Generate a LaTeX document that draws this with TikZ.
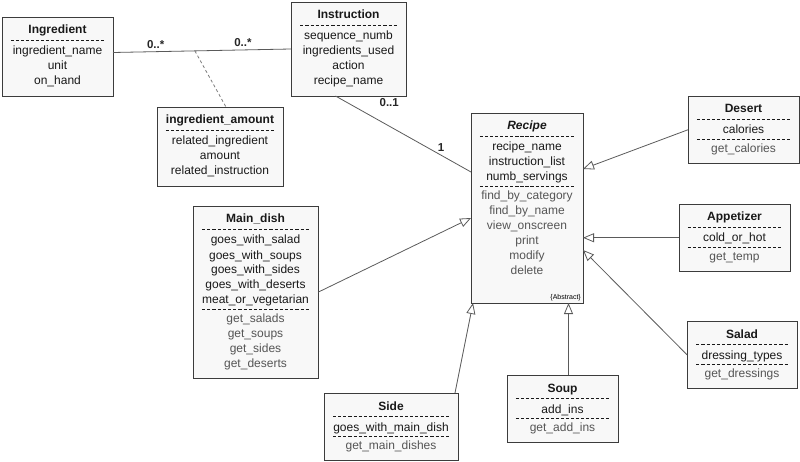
\documentclass[tikz,border=0pt]{standalone}
\usepackage{fontspec}
\setmainfont{Liberation Sans}
\usepackage{tikz}
\usetikzlibrary{arrows.meta}
\usepackage{xcolor}
\definecolor{boxline}{HTML}{3C3C3C}
\definecolor{boxfill}{HTML}{F8F8F8}
\definecolor{wire}{HTML}{5A5A5A}
\definecolor{optext}{HTML}{555555}

% dashed rule across a class box, and the two kinds of gaps round it
\newcommand{\dashrule}{\hbox to\hsize{\xleaders\hbox to 5pt{\hss\vrule width 3.2pt height 0.7pt\hss}\hfill}}
\newcommand{\titlesep}{\par\vspace{-8pt}\dashrule\par\vspace{-1pt}}
\newcommand{\opsep}{\par\vspace{-9pt}\dashrule\par\vspace{-2.5pt}\color{optext}}

\begin{document}
\begin{tikzpicture}[
    x=1pt, y=-1pt,
    cls/.style={draw=boxline, fill=boxfill, line width=0.8pt, anchor=north west,
        align=center, text width=#1, inner xsep=8pt, inner ysep=6.5pt, outer sep=0pt,
        font=\fontsize{12}{15}\selectfont, text=black!90,
        execute at begin node={\parindent=0pt\strut}, execute at end node=\strut},
    assoc/.style={draw=wire, line width=0.8pt},
    inherit/.style={assoc, -{Triangle[open, length=11pt, width=9pt]}},
    link/.style={draw=wire!80, line width=0.8pt, dash pattern=on 3pt off 2.5pt},
    mult/.style={font=\fontsize{11.5}{13}\selectfont\bfseries, text=black!85, inner sep=3pt}
]
\useasboundingbox (0,0) rectangle (800,462);

% classes
\node[cls=95pt] (ingr) at (2,17) {\textbf{Ingredient}\titlesep ingredient\_name\\ unit\\ on\_hand};
\node[cls=99pt] (instr) at (291,2) {\textbf{Instruction}\titlesep sequence\_numb\\ ingredients\_used\\ action\\ recipe\_name};
\node[cls=110pt] (amt) at (157,107) {\textbf{ingredient\_amount}\titlesep related\_ingredient\\ amount\\ related\_instruction};
\node[cls=96pt] (recipe) at (471,113) {\textbf{\textit{Recipe}}\titlesep recipe\_name\\ instruction\_list\\ numb\_servings\opsep find\_by\_category\\ find\_by\_name\\ view\_onscreen\\ print\\ modify\\ delete\\[2.5pt]\mbox{}};
\node[font=\fontsize{7}{8}\selectfont, anchor=south east, inner sep=2pt] (abs) at (recipe.south east) {\{Abstract\}};
\node[cls=95pt] (desert) at (688,96) {\textbf{Desert}\titlesep calories\opsep get\_calories};
\node[cls=95pt] (app) at (679,204) {\textbf{Appetizer}\titlesep cold\_or\_hot\opsep get\_temp};
\node[cls=94pt] (salad) at (687,321) {\textbf{Salad}\titlesep dressing\_types\opsep get\_dressings};
\node[cls=95pt] (soup) at (507,375) {\textbf{Soup}\titlesep add\_ins\opsep get\_add\_ins};
\node[cls=118pt] (side) at (324,393) {\textbf{Side}\titlesep goes\_with\_main\_dish\opsep get\_main\_dishes};
\node[cls=109pt] (main) at (193,206) {\textbf{Main\_dish}\titlesep goes\_with\_salad\\ goes\_with\_soups\\ goes\_with\_sides\\ goes\_with\_deserts\\ meat\_or\_vegetarian\opsep get\_salads\\ get\_soups\\ get\_sides\\ get\_deserts};

% associations
\draw[assoc] ([yshift=4pt]ingr.east) -- (instr.west)
    node[mult, pos=0.24, above] {0..*}
    node[mult, pos=0.73, above] {0..*}
    coordinate[pos=0.46] (mid);
\draw[link] (mid) -- ([xshift=6pt]amt.north);
\draw[assoc] ([xshift=-13pt]instr.south) -- ([yshift=36pt]recipe.west)
    node[mult, pos=0.78, above] {1};
\node[mult, anchor=north east, inner sep=2pt] (one) at ([xshift=-5pt]instr.south east) {0..1};

% generalisations
\draw[inherit] (desert.west) -- ([yshift=39pt]recipe.east);
\draw[inherit] (app.west) -- (app.west -| recipe.east);
\draw[inherit] (salad.west) -- ([yshift=-42pt]recipe.east);
\draw[inherit] ([xshift=6pt]soup.north) coordinate (sp) -- (sp |- recipe.south);
\draw[inherit] ([xshift=-3pt]side.north east) -- ([xshift=2pt]recipe.south west);
\draw[inherit] (main.east) -- ([yshift=-10pt]recipe.west);
\end{tikzpicture}
\end{document}
